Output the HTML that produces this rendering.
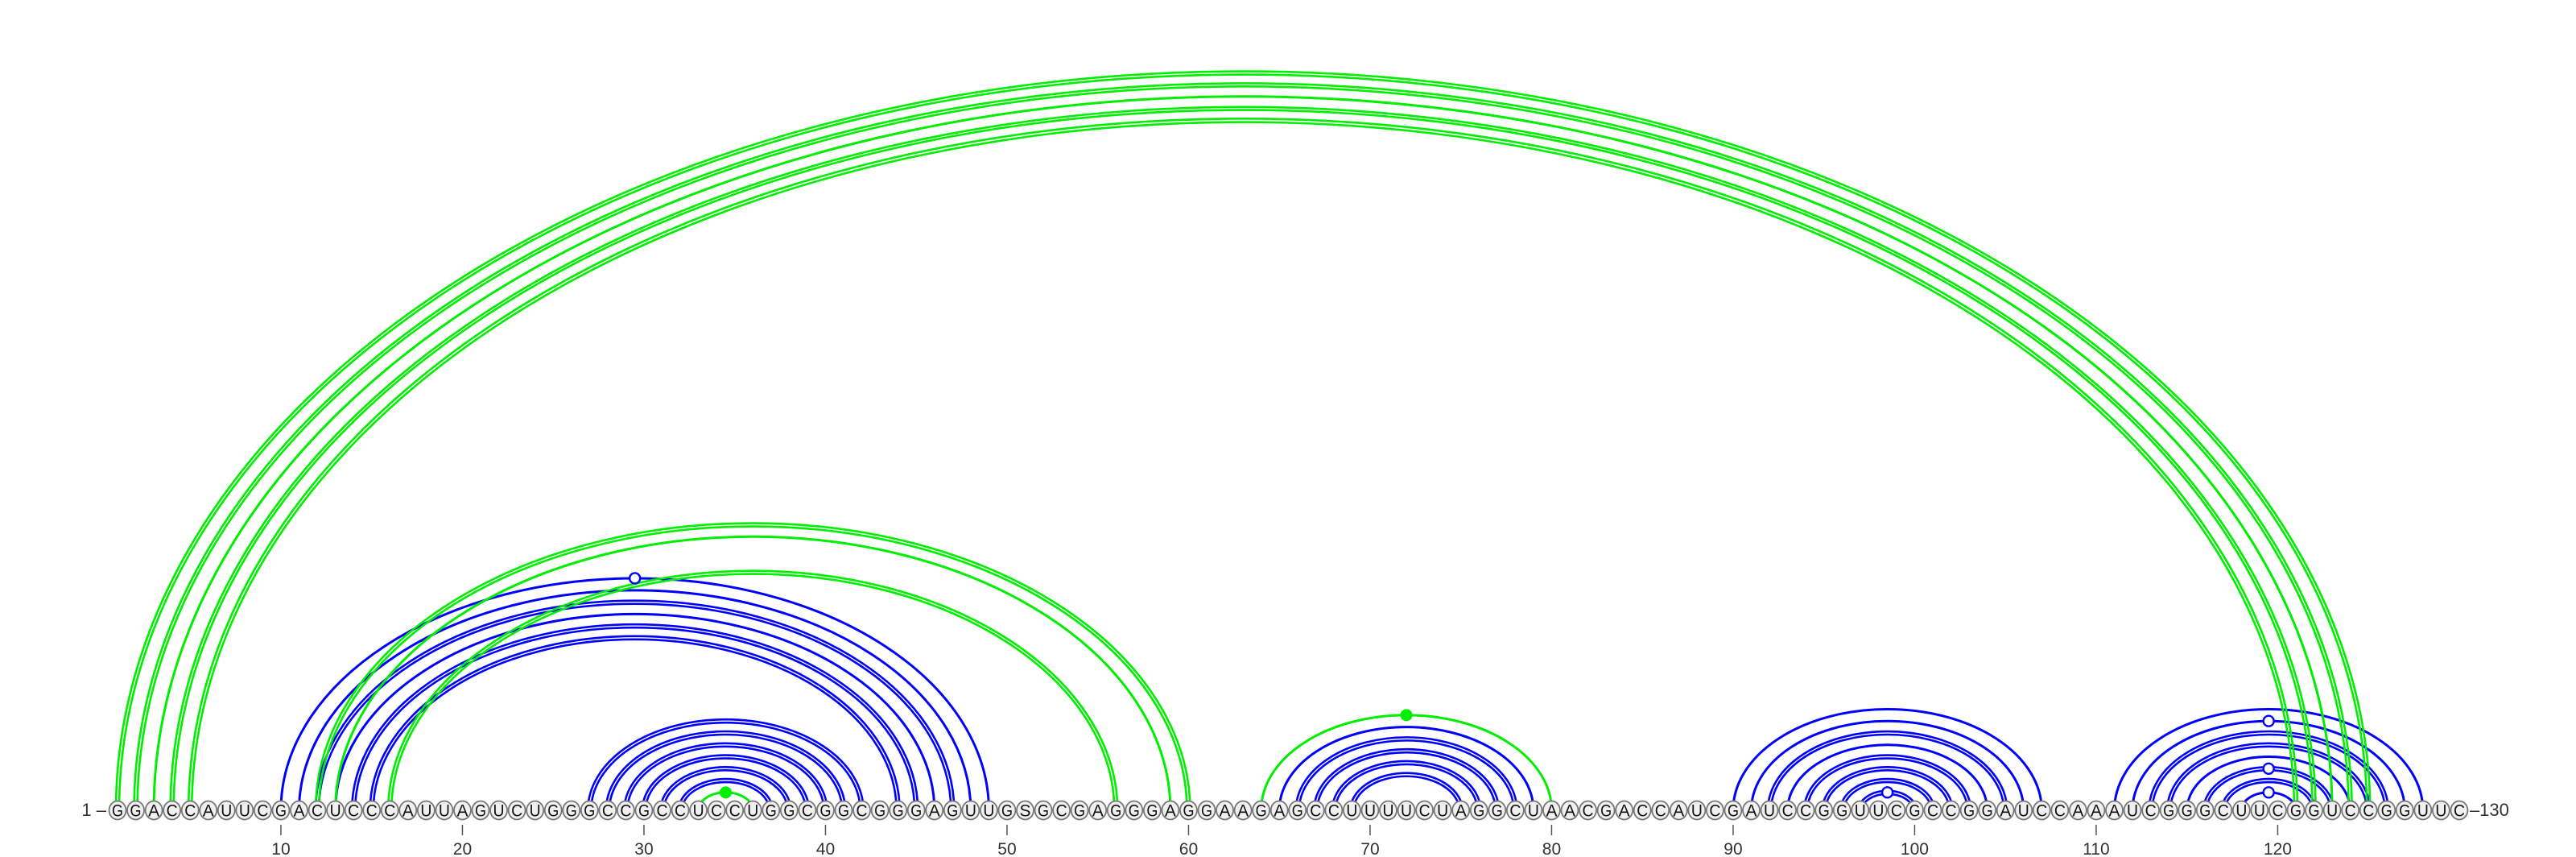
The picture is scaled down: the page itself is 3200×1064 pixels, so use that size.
<!DOCTYPE html>
<html><head><meta charset="utf-8"><style>
html,body{margin:0;padding:0;background:#fff;}
svg{display:block;}
</style></head><body>
<svg id="chart" width="3200" height="1064" viewBox="0 0 3200 1064" xmlns="http://www.w3.org/2000/svg">
<g id="arcs"></g>
<g id="bases"></g>
<g id="ticks"></g>
<g id="dots"></g>
</svg>
<script>
const sequence = "GGACCAUUCGACUCCCAUUAGUCUGGGCCGCCUCCUGGCGGCGGGAGUUGSGCGAGGGAGGAAGAGCCUUUUCUAGGCUAACGACCAUCGAUCCGGUUCGCCGGAUCCAAAUCGGGCUUCGGUCCGGUUC";
const tickLabels = [10,20,30,40,50,60,70,80,90,100,110,120];
const greenPairsI = [1,2,3,4,5,12,13,16,33,64];
const greenPairsJ = [125,124,123,122,121,60,59,56,36,80];
const greenDouble = [1,1,0,1,1,1,0,1,0,0];
const bluePairsI = [10,11,12,13,14,15,27,28,29,30,31,32,65,66,67,68,69,90,91,92,93,94,95,96,97,111,112,113,114,115,116,117,118];
const bluePairsJ = [49,48,47,46,45,44,42,41,40,39,38,37,79,78,77,76,75,107,106,105,104,103,102,101,100,128,127,126,125,124,123,122,121];
const blueDouble = [0,0,1,0,1,1,1,1,1,1,1,1,0,1,1,1,1,0,0,1,0,1,1,1,1,0,0,1,1,0,1,1,0];
const filledDotPairs = [[33,36],[64,80]];
const openDotPairs = [[10,49],[97,100],[112,127],[116,123],[118,121]];

const NS="http://www.w3.org/2000/svg";
const X0=146, PITCH=22.55, BASEY=1006, RATIO=0.655;
function xPos(n){return X0+(n-1)*PITCH;}
function mk(tag,attrs,parent){const e=document.createElementNS(NS,tag);for(const k in attrs)e.setAttribute(k,attrs[k]);parent.appendChild(e);return e;}
const arcs=document.getElementById('arcs');
function arcPath(i,j,d){const x1=xPos(i)-d,x2=xPos(j)+d;const rx=(x2-x1)/2;const ry=(xPos(j)-xPos(i))/2*RATIO+d;return `M${x1},${BASEY} A${rx},${ry} 0 0 1 ${x2},${BASEY}`;}
function drawArc(i,j,dbl,color){
  if(dbl){
    for(const d of [-2,2]){
      const p=mk('path',{d:arcPath(i,j,d),fill:'none',stroke:color,'stroke-width':2.6},arcs);
      
      
    }
  } else {
    const p=mk('path',{d:arcPath(i,j,0),fill:'none',stroke:color,'stroke-width':3},arcs);
    
    
  }
}
bluePairsI.forEach((a,k)=>drawArc(a,bluePairsJ[k],blueDouble[k],'#0000ff'));
greenPairsI.forEach((a,k)=>drawArc(a,greenPairsJ[k],greenDouble[k],'#00ee00'));

const bases=document.getElementById('bases');
const l1=mk('text',{x:xPos(1)-14,y:BASEY+7,'font-family':'Liberation Sans, sans-serif','font-size':22,fill:'#333','text-anchor':'end'},bases);
l1.textContent='1 –';


for(let n=1;n<=sequence.length;n++){
  const g=mk('g',{},bases);
  
  
  mk('ellipse',{cx:xPos(n),cy:BASEY,rx:10.5,ry:11.5,fill:'#f0f0f0',stroke:'#777','stroke-width':1.8},g);
  const t=mk('text',{x:xPos(n),y:BASEY+7.5,'font-family':'Liberation Sans, sans-serif','font-size':21,fill:'#111','text-anchor':'middle',textLength:14,lengthAdjust:'spacingAndGlyphs'},g);
  t.textContent=sequence[n-1];
}
const l2=mk('text',{x:xPos(sequence.length)+13,y:BASEY+7,'font-family':'Liberation Sans, sans-serif','font-size':22,fill:'#333'},bases);
l2.textContent='–130';



const ticks=document.getElementById('ticks');
tickLabels.forEach(v=>{
  const x=xPos(v);
  const ln=mk('line',{x1:x,x2:x,y1:1024,y2:1037,stroke:'#555','stroke-width':1.5},ticks);
  
  
  const t=mk('text',{x:x,y:1061,'font-family':'Liberation Sans, sans-serif','font-size':21,fill:'#333','text-anchor':'middle'},ticks);
  
  
  t.textContent=v;
});

const dots=document.getElementById('dots');
function topOf(i,j){return [(xPos(i)+xPos(j))/2, BASEY-(xPos(j)-xPos(i))/2*RATIO];}
filledDotPairs.forEach(([i,j])=>{const [x,y]=topOf(i,j);
  const c=mk('circle',{cx:x,cy:y,r:7,fill:'#00ee00',stroke:'#00ee00'},dots);
  
  });
openDotPairs.forEach(([i,j])=>{const [x,y]=topOf(i,j);
  const c=mk('circle',{cx:x,cy:y,r:6.5,fill:'#fff',stroke:'#0000ff','stroke-width':2.4},dots);
  
  });
</script>
</body></html>
